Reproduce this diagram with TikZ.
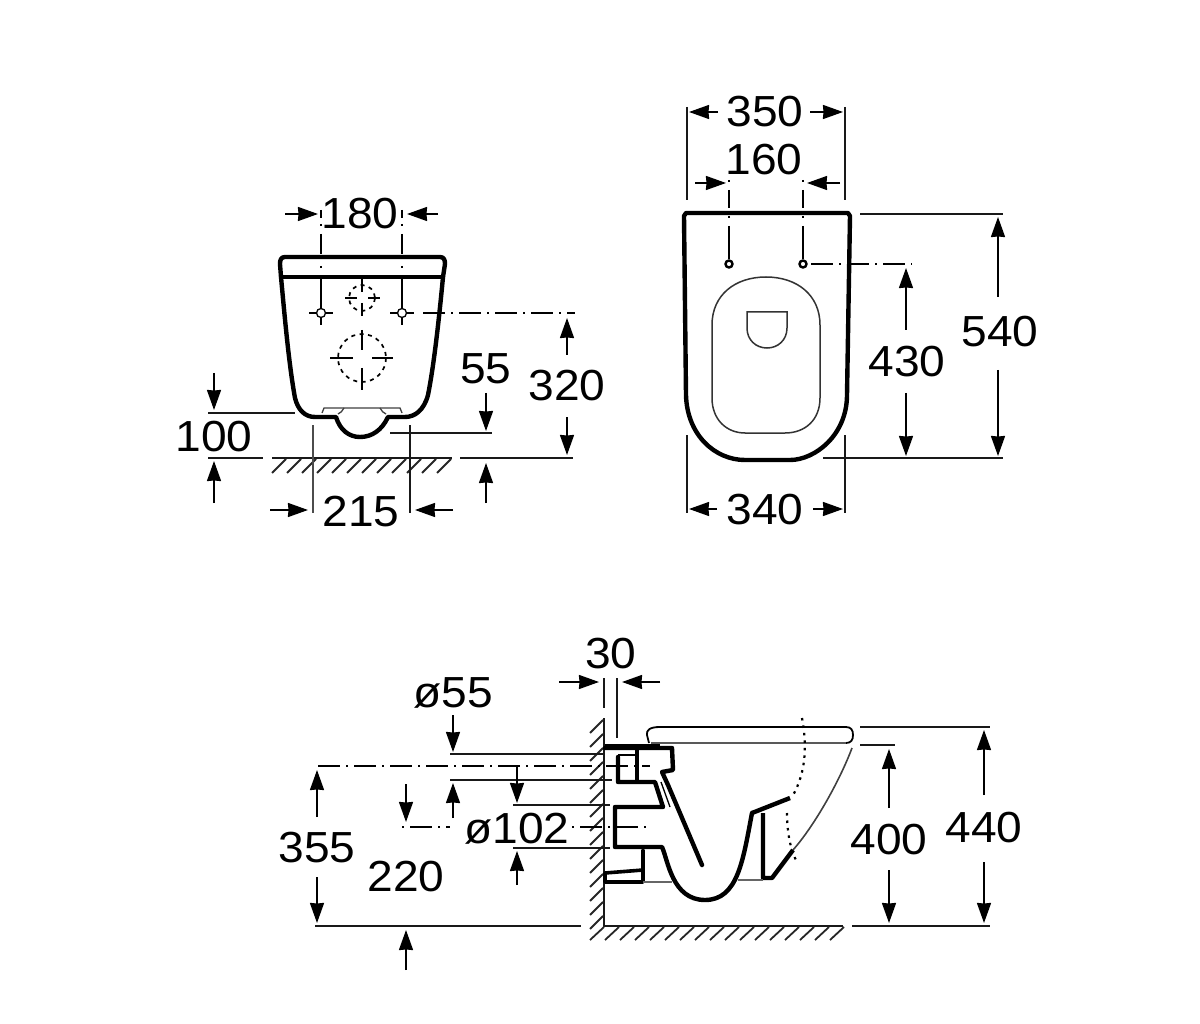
\documentclass[tikz,border=0pt]{standalone}
\usepackage{fontspec}
\setmainfont[FakeStretch=1.06]{Liberation Sans}
\usetikzlibrary{arrows.meta}
\tikzset{
 dimline/.style={line width=1.8pt,-{Stealth[length=20pt,width=14pt,inset=0.5pt]}},
 leader/.style={line width=1.9pt,black!90},
 thin line/.style={line width=1.3pt,black!75},
 heavy/.style={line width=4.4pt,line join=round,line cap=round},
 mid/.style={line width=2.4pt,line join=round},
 axisline/.style={line width=1.8pt,dash pattern=on 22pt off 6pt on 2pt off 6pt},
 hatchline/.style={line width=1.8pt,black!85},
 dotted curve/.style={line width=2.2pt,dash pattern=on 2.5pt off 5pt},
 dashed circle/.style={line width=1.7pt,dash pattern=on 4pt off 4.5pt},
 lbl/.style={inner sep=0pt,font=\fontsize{43.5}{43.5}\selectfont}
}
\begin{document}
\begin{tikzpicture}[x=1pt,y=-1pt]
\useasboundingbox (0,0) rectangle (1200,1024);
\fill[white] (0,0) rectangle (1200,1024);

%%% ---- rear view (left) ----
\draw[heavy] (285,257) -- (440,257)
  .. controls (444,257) and (445,260) .. (445,264) -- (443,277)
  .. controls (438,330) and (433,370) .. (428,395)
  .. controls (424,410) and (415,417) .. (405,417) -- (388,417)
  .. controls (382,430) and (372,437) .. (360,437)
  .. controls (349,437) and (340,430) .. (336,417) -- (315,417)
  .. controls (305,417) and (298,410) .. (295,398)
  .. controls (289,365) and (285,320) .. (281,277) -- (280,264)
  .. controls (280,260) and (281,257) .. (285,257) -- cycle;
\draw[heavy] (281,277) -- (443,277);
\draw[thin line] (322,413) -- (324,408) -- (400,408) -- (402,413);
\draw[thin line] (338,414) .. controls (341,413) and (342,411) .. (344,408);
\draw[thin line] (386,414) .. controls (383,413) and (382,411) .. (380,408);
% axes through mounting holes
\draw[line width=1.8pt,dash pattern=on 8pt off 6pt on 2pt off 8pt on 20pt off 12pt on 2pt off 8pt on 30pt off 100pt] (321,210) -- (321,303);
\draw[line width=1.8pt,dash pattern=on 8pt off 6pt on 2pt off 8pt on 20pt off 12pt on 2pt off 8pt on 30pt off 100pt] (402,210) -- (402,303);
\foreach \cx in {321,402}{
  \draw[line width=1.8pt] (\cx,303) -- (\cx,309) (\cx,317) -- (\cx,325) (\cx-12,313) -- (\cx-4,313) (\cx+4,313) -- (\cx+12,313);
  \draw[line width=1.3pt] (\cx,313) circle (4.5);
}
\draw[axisline] (423,313) -- (575,313);
% upper dashed circle
\draw[dashed circle] (362,298) circle (13);
\draw[line width=1.8pt] (362,278) -- (362,292) (362,303) -- (362,316) (345,298) -- (357,298) (368,298) -- (380,298);
% lower dashed circle
\draw[dashed circle] (362,358) circle (24);
\draw[line width=1.8pt] (362,330) -- (362,350) (362,368) -- (362,390) (330,358) -- (353,358) (372,358) -- (393,358);
% floor
\draw[leader] (272,458) -- (452,458);
\foreach \h in {0,...,11}
  \draw[hatchline] (272+\h*15,473) -- (286+\h*15,459);
\draw[leader] (208,458) -- (263,458);
\draw[leader] (460,458) -- (573,458);
\draw[leader] (208,413) -- (295,413);
\draw[leader] (390,433) -- (492,433);
\draw[line width=2.2pt,black!70] (313,425) -- (313,513);
\draw[leader] (410,425) -- (410,513);
% dim arrows
\draw[dimline] (285,214) -- (318,214);
\draw[dimline] (438,214) -- (407,214);
\draw[dimline] (214,373) -- (214,410);
\draw[dimline] (214,503) -- (214,461);
\draw[dimline] (270,510) -- (308,510);
\draw[dimline] (453,510) -- (415,510);
\draw[dimline] (486,393) -- (486,431);
\draw[dimline] (486,503) -- (486,463);
\draw[dimline] (567,355) -- (567,318);
\draw[dimline] (567,417) -- (567,455);
\node[lbl] (t180) at (360,214) {180};
\node[lbl] (t100) at (214,437) {100};
\node[lbl] (t215) at (361,512) {215};
\node[lbl] (t55) at (486,369) {55};
\node[lbl] (t320) at (567,386) {320};

%%% ---- top view (right) ----
\draw[heavy] (686,213) -- (848,213) -- (850,216) -- (847,395)
  .. controls (847,435) and (815,460) .. (790,460) -- (745,460)
  .. controls (715,460) and (687,435) .. (686,395) -- (684,216) -- cycle;
\draw[line width=1.5pt,black!80] (712,325)
  .. controls (712,295) and (735,277) .. (766,277)
  .. controls (797,277) and (820,295) .. (820,325) -- (820,398)
  .. controls (820,420) and (805,433) .. (785,433) -- (745,433)
  .. controls (727,433) and (712,420) .. (712,398) -- cycle;
\draw[line width=1.5pt,black!80] (747,312) -- (787,312) -- (787,328)
  .. controls (787,340) and (778,348) .. (767,348)
  .. controls (756,348) and (747,340) .. (747,328) -- cycle;
\foreach \cx in {729,803}{
  \draw[line width=1.8pt,dash pattern=on 2pt off 8pt on 18pt off 8pt on 2pt off 8pt on 100pt] (\cx,180) -- (\cx,259);
  \draw[line width=2.4pt] (\cx,264) circle (3.5);
}
\draw[axisline] (811,264) -- (912,264);
\draw[leader] (687,107) -- (687,200);
\draw[leader] (845,107) -- (845,200);
\draw[leader] (687,435) -- (687,513);
\draw[leader] (845,435) -- (845,513);
\draw[leader] (860,214) -- (1003,214);
\draw[leader] (823,458) -- (1003,458);
\draw[dimline] (718,112) -- (689,112);
\draw[dimline] (810,112) -- (843,112);
\draw[dimline] (695,183) -- (726,183);
\draw[dimline] (840,183) -- (807,183);
\draw[dimline] (906,330) -- (906,268);
\draw[dimline] (906,393) -- (906,456);
\draw[dimline] (998,297) -- (998,217);
\draw[dimline] (998,370) -- (998,456);
\draw[dimline] (717,509) -- (689,509);
\draw[dimline] (813,509) -- (843,509);
\node[lbl] (t350) at (765,112) {350};
\node[lbl] (t160) at (764,160) {160};
\node[lbl] (t430) at (907,362) {430};
\node[lbl] (t540) at (1000,332) {540};
\node[lbl] (t340) at (765,510) {340};

%%% ---- side view (bottom) ----
% wall and floor
\draw[leader] (604,718) -- (604,926) -- (843,926);
\foreach \h in {0,...,14}
  \draw[hatchline] (590,733+\h*14) -- (603,720+\h*14);
\foreach \h in {0,...,16}
  \draw[hatchline] (590+\h*15,940) -- (604+\h*15,927);
% lid
\draw[line width=1.8pt] (660,727) -- (846,727)
  .. controls (851,727) and (853,730) .. (853,735)
  .. controls (853,740) and (851,743) .. (846,743);
\draw[line width=2.4pt,black!65] (651,743) -- (846,743);
\draw[line width=1.8pt] (660,727) .. controls (650,727) and (646,730) .. (647,735) -- (649,743);
% pan outline
\draw[line width=1.6pt,black!75] (852,748) .. controls (840,780) and (815,825) .. (793,850);
\draw[heavy,line cap=butt] (793,850) -- (772,878) -- (763,878) -- (763,813);
\draw[heavy,line cap=butt] (790,798) -- (752,813);
\draw[heavy] (605,748) -- (672,748) -- (673,770) -- (662,772) -- (668,785) -- (702,865);
\draw[line width=6pt] (605,747) -- (660,747);
\draw[heavy] (618,757) -- (618,782) -- (655,782) -- (663,807) -- (615,807) -- (615,847) -- (662,847)
  .. controls (668,860) and (672,900) .. (705,900)
  .. controls (738,900) and (743,860) .. (752,813);
\draw[line width=1.3pt] (661,782) -- (670,807);
\draw[heavy,line width=3.4pt] (637,747) -- (637,782);
\draw[mid] (618,755) -- (637,755);
\draw[heavy,line width=3.6pt] (643,850) -- (643,882) -- (605,882) -- (605,873) -- (643,870);
\draw[line width=1.4pt,black!60] (643,882) -- (672,882) (738,880) -- (763,880);
% dotted curve
\draw[dotted curve] (802,718) .. controls (806,740) and (808,770) .. (792,797);
\draw[dotted curve] (787,813) .. controls (787,830) and (790,850) .. (797,862);
% leaders
\draw[leader] (450,754) -- (604,754);
\draw[leader] (450,780) -- (612,780);
\draw[leader] (513,805) -- (610,805);
\draw[leader] (513,848) -- (610,848);
\draw[leader] (315,926) -- (581,926);
\draw[axisline] (318,766) -- (650,766);
\draw[axisline,dash pattern=on 2pt off 6pt on 22pt off 6pt] (402,827) -- (450,827);
\draw[axisline,dash pattern=on 2pt off 6pt on 22pt off 6pt] (572,827) -- (650,827);
\draw[leader] (604,678) -- (604,708);
\draw[leader] (617,678) -- (617,738);
\draw[leader] (860,727) -- (990,727);
\draw[leader] (860,745) -- (895,745);
\draw[leader] (852,926) -- (990,926);
% dim arrows
\draw[dimline] (559,682) -- (599,682);
\draw[dimline] (660,682) -- (622,682);
\draw[dimline] (453,715) -- (453,752);
\draw[dimline] (453,818) -- (453,783);
\draw[dimline] (517,767) -- (517,803);
\draw[dimline] (517,885) -- (517,851);
\draw[dimline] (406,784) -- (406,822);
\draw[dimline] (317,817) -- (317,770);
\draw[dimline] (317,877) -- (317,923);
\draw[dimline] (406,970) -- (406,930);
\draw[dimline] (889,808) -- (889,749);
\draw[dimline] (889,870) -- (889,923);
\draw[dimline] (984,795) -- (984,730);
\draw[dimline] (984,862) -- (984,923);
\node[lbl] (t30) at (611,654) {30};
\node[lbl] (t055) at (453,693) {ø55};
\node[lbl] (t0102) at (517,829) {ø102};
\node[lbl] (t355) at (317,848) {355};
\node[lbl] (t220) at (406,877) {220};
\node[lbl] (t400) at (889,840) {400};
\node[lbl] (t440) at (984,828) {440};
\end{tikzpicture}
\end{document}
